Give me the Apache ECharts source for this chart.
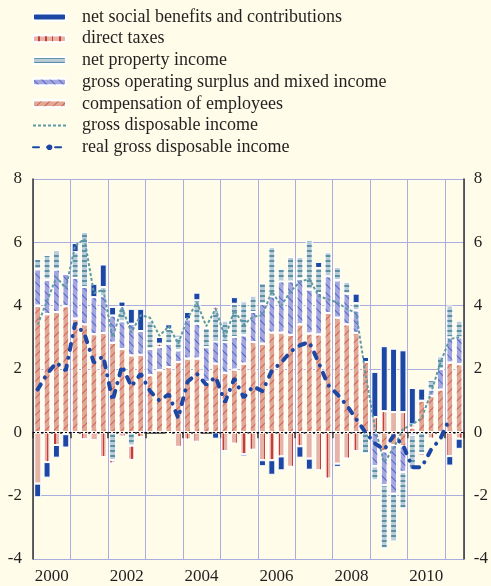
<!DOCTYPE html>
<html>
<head>
<meta charset="utf-8">
<script src="https://cdn.jsdelivr.net/npm/echarts@6/dist/echarts.min.js"></script>
<style>
  body { margin: 0; background: #fffde9; }
  #chart { width: 491px; height: 586px; }
</style>
</head>
<body>
<div id="chart"></div>
<script>
// quarters 2000Q1 .. 2011Q2
const quarters = [];
for (let y = 2000; y <= 2011; y++) {
  for (let q = 1; q <= 4; q++) {
    if (quarters.length < 46) quarters.push(y + "Q" + q);
  }
}
const yearLabels = ["2000", "2002", "2004", "2006", "2008", "2010"];

const compensation = [4.0, 3.73, 3.8, 3.98, 3.59, 3.41, 3.1, 3.14, 2.83, 2.63, 2.43, 2.45, 1.8, 1.96, 2.06, 2.22, 2.33, 2.33, 1.59, 2.17, 1.88, 1.98, 2.17, 2.85, 2.8, 3.15, 3.15, 3.08, 3.41, 3.12, 3.09, 3.77, 3.62, 3.41, 3.14, 2.22, 0, -0.6, -0.4, -0.44, 0.15, 1.0, 1.15, 1.35, 2.2, 2.15];
const surplus = [1.15, 1.09, 1.34, 1.03, 1.29, 1.18, 1.17, 1.16, 0.86, 0.88, 1.0, 0.75, 0.84, 0.73, 0.74, 0.37, 1.24, 1.1, 1.1, 0.7, 0.97, 1.03, 0.89, 0.95, 1.26, 1.14, 1.62, 1.69, 1.44, 1.39, 1.31, 1.16, 1.18, 0.97, 0.71, 0, -1.07, -1.07, -1.54, -0.81, -0.1, 0, 0.2, 0.65, 0.8, 0.85];
const property = [0.33, 0.78, 0.6, 0, 0.81, 1.74, 0, 0.29, -0.88, 0.45, -0.42, 0, 0.88, 0, 0.47, 0.41, 0, 0.74, 0.61, 0.98, 0.67, 1.05, 1.08, 0.51, 0.66, 1.56, 0.4, 0.77, 0.69, 1.55, 0.79, 0.76, 0.42, 0.37, 0.23, -0.67, -0.45, -2.0, -1.5, -1.16, -1.1, -0.65, 0.3, 0.4, 1.0, 0.52];
const taxes = [-1.62, -0.94, -0.4, -0.06, -0.05, -0.22, -0.25, -0.78, -0.1, -0.14, -0.45, -0.15, 0, 0.11, -0.04, -0.46, -0.23, -0.3, 0, 0.12, -0.59, -0.36, -0.69, -0.55, -0.88, -0.88, -0.76, -1.09, -0.44, -0.83, -1.2, -1.46, -0.99, -0.83, -0.59, 0, 0.48, 0.67, 0.64, 0.64, 0.1, -0.1, -0.2, -0.05, -0.75, -0.2];
const social = [-0.43, -0.49, -0.4, -0.42, 0.29, 0, 0.42, 0.71, 0.27, 0.17, 0.47, 0.7, 0, 0.21, 0.14, 0.08, 0.23, 0.24, 0, -0.2, 0, 0.21, -0.07, 0, -0.19, -0.46, -0.44, 0, -0.36, -0.35, 0.19, 0, -0.1, 0, 0.3, 0.16, 1.43, 2.05, 2.0, 1.95, 1.15, 0.38, 0, 0, -0.3, -0.32];
const grossDisposable = [3.4, 4.15, 4.9, 4.55, 5.9, 6.1, 4.4, 4.5, 3.0, 3.95, 3.15, 3.7, 3.62, 3.05, 3.35, 2.8, 3.6, 4.1, 3.35, 3.9, 3.0, 3.85, 3.4, 3.65, 3.7, 4.45, 4.0, 4.45, 4.75, 4.85, 4.3, 4.2, 4.1, 3.9, 3.77, 1.85, 0.15, -0.95, -0.5, 0.1, 0.25, 0.45, 1.25, 2.2, 2.95, 3.0];
const realDisposable = [1.35, 1.85, 2.2, 1.95, 3.45, 3.1, 2.2, 2.4, 1.0, 2.1, 1.45, 1.85, 1.3, 1.0, 1.2, 0.45, 1.6, 1.85, 1.5, 1.75, 0.95, 1.7, 1.1, 1.45, 1.3, 1.95, 2.2, 2.55, 2.75, 2.85, 2.2, 1.5, 1.2, 0.85, 0.42, 0.0, -0.35, -0.55, -0.1, -0.4, -1.1, -1.1, -0.55, -0.2, 0.45, null];

const font = "'Liberation Serif', 'DejaVu Serif', serif";
const textColor = "#231f20";
const gridColor = "#a9addf";
const axisColor = "#333";

const bar = (name, values, color, decal) => ({
  name: name,
  type: "bar",
  stack: "income",
  barWidth: 7,
  data: values,
  itemStyle: { color: color, borderColor: "#fff", borderWidth: 1, decal: decal },
});

const chart = echarts.init(document.getElementById("chart"));

const option = {
  backgroundColor: "#fffde9",
  animation: false,
  legend: {
    orient: "vertical",
    left: 27,
    top: 3,
    itemWidth: 33,
    itemHeight: 7,
    itemGap: 3.7,
    textStyle: { fontFamily: font, fontSize: 18, color: textColor, lineHeight: 18, padding: [0, 0, 0, 11] },
    data: [
      "net social benefits and contributions",
      "direct taxes",
      "net property income",
      "gross operating surplus and mixed income",
      "compensation of employees",
      { name: "gross disposable income", itemStyle: { opacity: 0 } },
      "real gross disposable income",
    ],
  },
  grid: { left: 33, right: 23, top: 179, bottom: 27 },
  xAxis: [
    {
      type: "category",
      data: quarters,
      boundaryGap: true,
      axisLine: { show: true, lineStyle: { color: axisColor, width: 1.5 } },
      axisTick: { show: true, interval: 3, length: 6, lineStyle: { color: axisColor, width: 1.5 } },
      axisLabel: { show: false },
      splitLine: { show: true, interval: 3, lineStyle: { color: gridColor, width: 1 } },
    },
    {
      // label-only axis: puts the year names in the middle of each year
      type: "value",
      position: "bottom",
      offset: 0,
      min: 0,
      max: 46,
      interval: 2,
      axisLine: { show: false },
      axisTick: { show: false },
      splitLine: { show: false },
      axisLabel: {
        margin: 9,
        fontFamily: font,
        fontSize: 17,
        color: textColor,
        formatter: (v) => (v % 8 === 2 ? yearLabels[(v - 2) / 8] || "" : ""),
      },
    },
  ],
  yAxis: [
    {
      type: "value",
      min: -4,
      max: 8,
      interval: 2,
      axisLine: { show: true, lineStyle: { color: axisColor, width: 1.5 } },
      axisTick: { show: false },
      axisLabel: { margin: 11, fontFamily: font, fontSize: 17, color: textColor },
      splitLine: { show: true, lineStyle: { color: gridColor, width: 1 } },
    },
    {
      type: "value",
      position: "right",
      min: -4,
      max: 8,
      interval: 2,
      axisLine: { show: true, lineStyle: { color: axisColor, width: 1.5 } },
      axisTick: { show: false },
      axisLabel: { margin: 10, fontFamily: font, fontSize: 17, color: textColor },
      splitLine: { show: false },
    },
  ],
  series: [
    Object.assign(
      bar("compensation of employees", compensation, "#e0a895", {
        symbol: "rect", symbolSize: 1, color: "rgba(200,50,40,0.6)",
        dashArrayX: [1, 0], dashArrayY: [1, 5], rotation: -Math.PI / 4,
      }),
      {
        markLine: {
          silent: true,
          symbol: ["none", "none"],
          label: { show: false },
          lineStyle: { color: "#000", type: [2, 2], width: 1 },
          data: [{ yAxis: 0 }],
        },
      }
    ),
    bar("gross operating surplus and mixed income", surplus, "#a4a7de", {
      symbol: "rect", symbolSize: 1, color: "rgba(50,70,190,0.7)",
      dashArrayX: [1, 0], dashArrayY: [1, 4.5], rotation: Math.PI / 4,
    }),
    bar("net property income", property, "#b9cdd8", {
      symbol: "rect", symbolSize: 1, color: "rgba(70,130,148,0.8)",
      dashArrayX: [1, 0], dashArrayY: [1.2, 3], rotation: 0,
    }),
    bar("direct taxes", taxes, "#e6b3a6", {
      symbol: "rect", symbolSize: 1, color: "rgba(190,40,35,0.85)",
      dashArrayX: [1, 0], dashArrayY: [2, 5], rotation: Math.PI / 2,
    }),
    bar("net social benefits and contributions", social, "#1d47a5", null),
    {
      name: "gross disposable income",
      type: "line",
      data: grossDisposable,
      symbol: "none",
      z: 5,
      lineStyle: { color: "#5e9aa6", width: 2, type: [3, 2] },
      itemStyle: { color: "#5e9aa6" },
    },
    {
      name: "real gross disposable income",
      type: "line",
      data: realDisposable,
      symbol: "none",
      z: 6,
      lineStyle: { color: "#1d47a5", width: 4, type: [6, 8, 0.1, 8], cap: "round" },
      itemStyle: { color: "#1d47a5" },
    },
  ],
};

chart.setOption(option);
</script>
</body>
</html>
